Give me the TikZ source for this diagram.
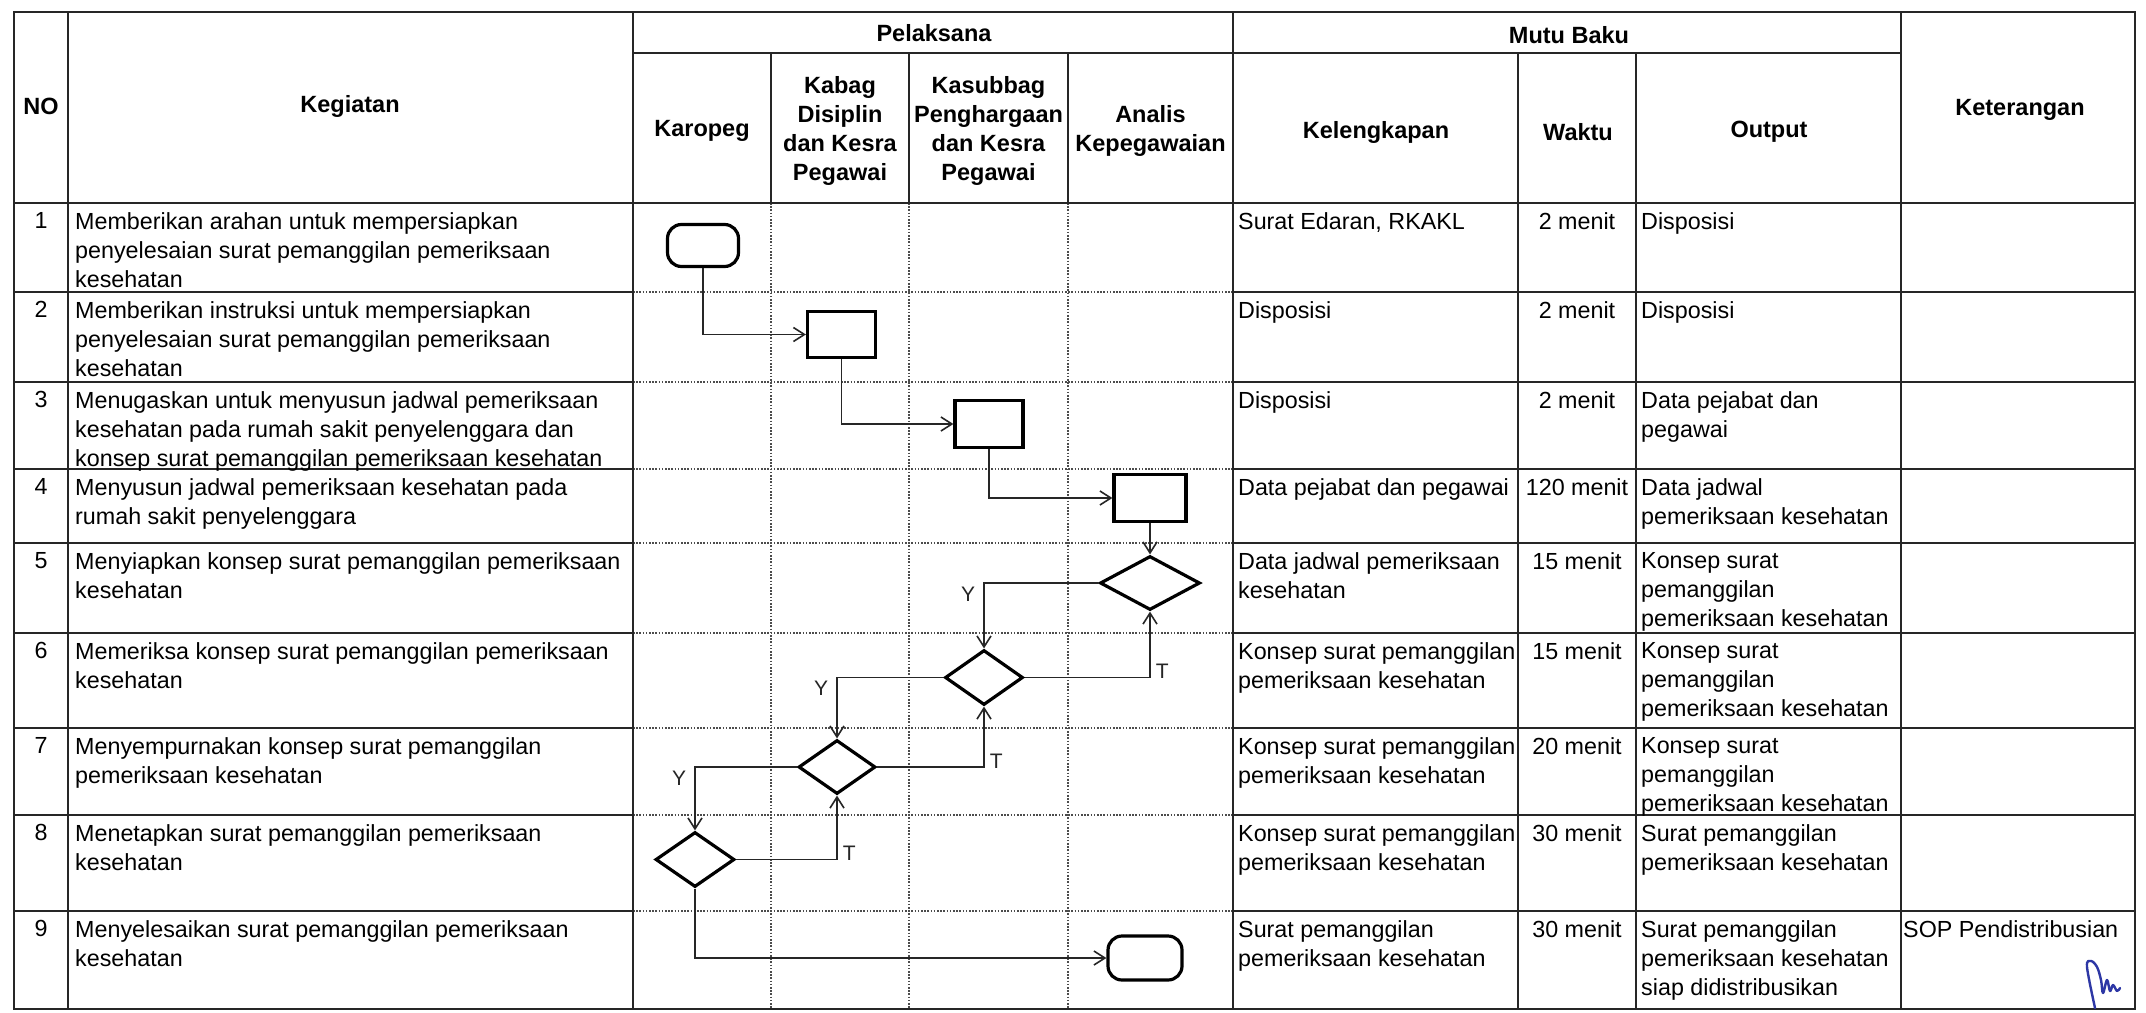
\documentclass[tikz,border=0pt]{standalone}
\usepackage{fontspec}
\setmainfont{Liberation Sans}
\usetikzlibrary{arrows.meta,shapes.geometric}
\definecolor{sigblue}{RGB}{45,55,165}
\begin{document}
\begin{tikzpicture}[x=1pt,y=-1pt,
  tline/.style={line width=2pt, black!85},
  dline/.style={line width=1.8pt, black!70, dash pattern=on 1.6pt off 1.6pt},
  hd/.style={font=\fontsize{23.5}{29}\selectfont\bfseries, align=center, inner sep=0pt},
  txt/.style={font=\fontsize{23.3}{29}\selectfont, align=left, anchor=north west, inner sep=0pt},
  num/.style={font=\fontsize{23.3}{29}\selectfont, anchor=north, inner sep=0pt},
  wkt/.style={font=\fontsize{23.3}{29}\selectfont, anchor=north, inner sep=0pt},
  term/.style={draw, line width=3.2pt, rounded corners=14pt, inner sep=0pt},
  boxp/.style={draw, line width=3.2pt, inner sep=0pt},
  dia/.style={draw, diamond, line width=3.2pt, inner sep=0pt},
  arr/.style={line width=1.6pt, black!85, -{Straight Barb[length=11pt,width=14pt,line width=1.6pt]}},
  lblY/.style={font=\fontsize{21}{25}\selectfont, anchor=north east, inner sep=0pt, xshift=-8pt, yshift=-3pt},
  lblT/.style={font=\fontsize{21}{25}\selectfont, anchor=south west, inner sep=0pt, xshift=5pt, yshift=-2pt},
  sig/.style={line width=2.4pt, sigblue, line cap=round, line join=round}
]
\useasboundingbox (0,0) rectangle (2146,1012);
\fill[white] (0,0) rectangle (2146,1012);

% ---- dotted lane grid ----
\foreach \x in {771,909,1068} {
  \draw[dline] (\x,203) -- (\x,1009);
}
\foreach \y in {292,382,469,543,633,728,815,911} {
  \draw[dline] (633,\y) -- (1233,\y);
}
% ---- solid table lines ----
\foreach \x in {771,909,1068} {
  \draw[tline] (\x,53) -- (\x,203);
}
\foreach \y in {292,382,469,543,633,728,815,911} {
  \draw[tline] (14,\y) -- (633,\y);
  \draw[tline] (1233,\y) -- (2135,\y);
}
\draw[tline] (14,12) rectangle (2135,1009);
\draw[tline] (68,12) -- (68,1009);
\draw[tline] (633,12) -- (633,1009);
\draw[tline] (1233,53) -- (1233,1009);
\draw[tline] (1233,12) -- (1233,53);
\draw[tline] (1901,12) -- (1901,1009);
\draw[tline] (633,53) -- (1901,53);
\draw[tline] (1518,53) -- (1518,1009);
\draw[tline] (1636,53) -- (1636,1009);
\draw[tline] (14,203) -- (2135,203);

% ---- header ----
\node[hd] (hNO) at (41,106) {NO};
\node[hd] (hKeg) at (350,106) {Kegiatan};
\node[hd] (hPel) at (934,33) {Pelaksana};
\node[hd] (hKar) at (702,131) {Karopeg};
\node[hd] (hKab) at (840,131) {Kabag\\Disiplin\\dan Kesra\\Pegawai};
\node[hd] (hKas) at (988.5,131) {Kasubbag\\Penghargaan\\dan Kesra\\Pegawai};
\node[hd] (hAn) at (1150.5,131) {Analis\\Kepegawaian};
\node[hd] (hMB) at (1569,35) {Mutu Baku};
\node[hd] (hKel) at (1376,132) {Kelengkapan};
\node[hd] (hW) at (1578,132) {Waktu};
\node[hd] (hO) at (1769,132) {Output};
\node[hd] (hKet) at (2020,110) {Keterangan};

% ---- row numbers ----
\node[num] (n1) at (41,212) {1};
\node[num] (n2) at (41,301) {2};
\node[num] (n3) at (41,391) {3};
\node[num] (n4) at (41,478) {4};
\node[num] (n5) at (41,552) {5};
\node[num] (n6) at (41,642) {6};
\node[num] (n7) at (41,737) {7};
\node[num] (n8) at (41,824) {8};
\node[num] (n9) at (41,920) {9};

% ---- kegiatan ----
\node[txt] (k1) at (75,212) {Memberikan arahan untuk mempersiapkan\\penyelesaian surat pemanggilan pemeriksaan\\kesehatan};
\node[txt] (k2) at (75,301) {Memberikan instruksi untuk mempersiapkan\\penyelesaian surat pemanggilan pemeriksaan\\kesehatan};
\node[txt] (k3) at (75,391) {Menugaskan untuk menyusun jadwal pemeriksaan\\kesehatan pada rumah sakit penyelenggara dan\\konsep surat pemanggilan pemeriksaan kesehatan};
\node[txt] (k4) at (75,478) {Menyusun jadwal pemeriksaan kesehatan pada\\rumah sakit penyelenggara};
\node[txt] (k5) at (75,552) {Menyiapkan konsep surat pemanggilan pemeriksaan\\kesehatan};
\node[txt] (k6) at (75,642) {Memeriksa konsep surat pemanggilan pemeriksaan\\kesehatan};
\node[txt] (k7) at (75,737) {Menyempurnakan konsep surat pemanggilan\\pemeriksaan kesehatan};
\node[txt] (k8) at (75,824) {Menetapkan surat pemanggilan pemeriksaan\\kesehatan};
\node[txt] (k9) at (75,920) {Menyelesaikan surat pemanggilan pemeriksaan\\kesehatan};

% ---- kelengkapan ----
\node[txt] (l1) at (1238,212) {Surat Edaran, RKAKL};
\node[txt] (l2) at (1238,301) {Disposisi};
\node[txt] (l3) at (1238,391) {Disposisi};
\node[txt] (l4) at (1238,478) {Data pejabat dan pegawai};
\node[txt] (l5) at (1238,552) {Data jadwal pemeriksaan\\kesehatan};
\node[txt] (l6) at (1238,642) {Konsep surat pemanggilan\\pemeriksaan kesehatan};
\node[txt] (l7) at (1238,737) {Konsep surat pemanggilan\\pemeriksaan kesehatan};
\node[txt] (l8) at (1238,824) {Konsep surat pemanggilan\\pemeriksaan kesehatan};
\node[txt] (l9) at (1238,920) {Surat pemanggilan\\pemeriksaan kesehatan};

% ---- waktu ----
\node[wkt] (w1) at (1577,212) {2 menit};
\node[wkt] (w2) at (1577,301) {2 menit};
\node[wkt] (w3) at (1577,391) {2 menit};
\node[wkt] (w4) at (1577,478) {120 menit};
\node[wkt] (w5) at (1577,552) {15 menit};
\node[wkt] (w6) at (1577,642) {15 menit};
\node[wkt] (w7) at (1577,737) {20 menit};
\node[wkt] (w8) at (1577,824) {30 menit};
\node[wkt] (w9) at (1577,920) {30 menit};

% ---- output ----
\node[txt] (o1) at (1641,212) {Disposisi};
\node[txt] (o2) at (1641,301) {Disposisi};
\node[txt] (o3) at (1641,391) {Data pejabat dan\\pegawai};
\node[txt] (o4) at (1641,478) {Data jadwal\\pemeriksaan kesehatan};
\node[txt] (o5) at (1641,552) {Konsep surat\\pemanggilan\\pemeriksaan kesehatan};
\node[txt] (o6) at (1641,642) {Konsep surat\\pemanggilan\\pemeriksaan kesehatan};
\node[txt] (o7) at (1641,737) {Konsep surat\\pemanggilan\\pemeriksaan kesehatan};
\node[txt] (o8) at (1641,824) {Surat pemanggilan\\pemeriksaan kesehatan};
\node[txt] (o9) at (1641,920) {Surat pemanggilan\\pemeriksaan kesehatan\\siap didistribusikan};

% ---- keterangan ----
\node[txt] (ket9) at (1903,920) {SOP Pendistribusian};

% ---- flow shapes ----
\node[term, minimum width=71pt, minimum height=42pt] (S) at (703,245.5) {};
\node[boxp, minimum width=68pt, minimum height=46pt] (B2) at (841.5,334.5) {};
\node[boxp, minimum width=68pt, minimum height=47pt] (B3) at (989,424) {};
\node[boxp, minimum width=72pt, minimum height=47pt] (B4) at (1150,498) {};
\node[dia, minimum width=100pt, minimum height=54pt] (D5) at (1150,583) {};
\node[dia, minimum width=78pt, minimum height=55pt] (D6) at (984,677.5) {};
\node[dia, minimum width=77pt, minimum height=54pt] (D7) at (837,767) {};
\node[dia, minimum width=79pt, minimum height=55pt] (D8) at (695,859.5) {};
\node[term, minimum width=74pt, minimum height=44pt] (E) at (1145,958) {};

% ---- connectors ----
\draw[arr] (S.south) |- (B2.west);
\draw[arr] (B2.south) |- (B3.west);
\draw[arr] (B3.south) |- (B4.west);
\draw[arr] (B4.south) -- (D5.north);
\draw[arr] (D5.west) -| node[lblY, pos=0.5] {Y} (D6.north);
\draw[arr] (D6.east) -| node[lblT, pos=0.5] {T} (D5.south);
\draw[arr] (D6.west) -| node[lblY, pos=0.5] {Y} (D7.north);
\draw[arr] (D7.east) -| node[lblT, pos=0.5] {T} (D6.south);
\draw[arr] (D7.west) -| node[lblY, pos=0.5] {Y} (D8.north);
\draw[arr] (D8.east) -| node[lblT, pos=0.5] {T} (D7.south);
\draw[arr] (D8.south) |- (E.west);

% ---- paraf (signature) ----
\draw[sig] plot[smooth, tension=0.6] coordinates {(2095,1008) (2087,967) (2091,961) (2097,967) (2101,980) (2103,993) (2107,980) (2110,991) (2113,985) (2117,991) (2120,988)};
\end{tikzpicture}
\end{document}
